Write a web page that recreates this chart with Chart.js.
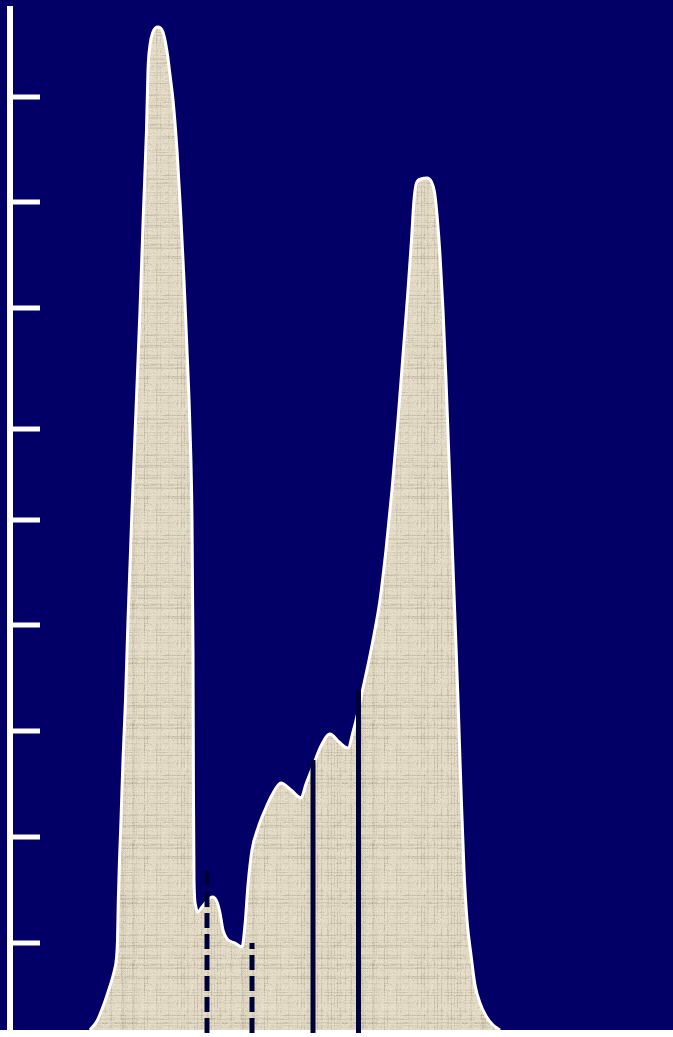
<!DOCTYPE html>
<html>
<head>
<meta charset="utf-8">
<script src="https://cdn.jsdelivr.net/npm/chart.js@4/dist/chart.umd.min.js"></script>
<style>
  html, body { margin: 0; padding: 0; background: #ffffff; }
  #wrap { width: 673px; height: 1037px; }
</style>
</head>
<body>
<div id="wrap"><canvas id="c" width="673" height="1037"></canvas></div>
<script>
// ---- data ----
const profileX = [15.4,16.8,18.2,19.4,20.2,20.7,20.9,21.06,21.3,21.6,22.0,22.5,23.0,23.8,24.6,25.4,26.1,26.7,27.0,27.4,28.0,29.0,29.9,30.4,30.9,31.4,32.0,32.8,33.5,34.2,34.8,35.4,35.8,36.0,36.1,36.2,36.5,36.9,37.8,38.8,39.9,40.8,41.4,42.0,42.8,44.4,45.8,46.4,47.0,47.8,49.0,50.4,51.8,53.6,55.6,57.6,58.6,60.0,61.6,63.4,65.2,67.0,68.0,69.0,70.0,71.0,72.2,73.4,74.6,75.8,77.0,78.0,79.0,79.7,80.2,80.7,81.6,82.8,83.7,84.3,84.8,85.4,86.0,86.6,87.2,87.8,88.4,89.0,89.6,90.2,90.8,91.6,92.4,93.4,94.6,96.0,97.4];
const profileY = [0,0.9,2.6,4.4,5.8,7.2,9.0,13.0,17.0,21.0,27.0,33.0,41.0,52.0,62.0,72.0,82.0,90.0,96.0,98.5,99.8,100.3,99.9,99.0,97.5,95.5,93.0,88.0,82.0,75.0,68.0,60.0,51.0,38.0,23.0,15.0,12.5,11.8,12.3,12.9,13.3,12.8,11.7,10.0,9.1,8.7,8.3,10.5,14.5,18.0,20.2,22.0,23.5,24.7,24.0,23.2,24.6,26.4,28.4,29.6,28.8,28.2,29.8,31.8,34.2,36.5,39.5,43.0,48.0,54.0,61.0,67.5,74.0,79.0,83.0,84.7,85.1,85.2,84.8,83.8,81.5,77.5,72.0,65.0,57.0,49.0,41.0,33.0,24.0,16.0,11.0,7.5,4.5,2.7,1.4,0.5,0];

const markerX    = [38.8, 47.8, 60.0, 69.1];
const markerTop  = [16.2, 8.7, 27.0, 34.0];
const markerDash = [true, true, false, false];

const yTicks = [8.7, 19.3, 29.9, 40.5, 51.0, 60.1, 72.2, 82.8, 93.3];

const X_MIN = 0, X_MAX = 132, Y_MIN = 0, Y_MAX = 102.4;

// ---- texture pattern (linen look) ----
function hash(n) { const s = Math.sin(n * 12.9898 + 78.233) * 43758.5453; return s - Math.floor(s); }
function makePattern(ctx) {
  const w = 120, h = 120;
  const pc = document.createElement('canvas');
  pc.width = w; pc.height = h;
  const p = pc.getContext('2d');
  const img = p.createImageData(w, h);
  const rowS = [], colS = [];
  for (let r = 0; r < h; r++) { const v = hash(r + 311); rowS.push(v > 0.6 ? (v - 0.6) * 2.5 : 0); }
  for (let c = 0; c < w; c++) { const v = hash(c + 977); colS.push(v > 0.6 ? (v - 0.6) * 2.5 : 0); }
  for (let r = 0; r < h; r++) {
    for (let c = 0; c < w; c++) {
      const n = hash(r * 131 + c * 7 + 5);
      const seg = hash(Math.floor(c / 6) * 17 + r * 3) > 0.5 ? 1 : 0.4;
      const segc = hash(Math.floor(r / 6) * 29 + c * 5) > 0.5 ? 1 : 0.4;
      let d = 26 * rowS[r] * seg + 26 * colS[c] * segc + (n > 0.88 ? 14 : 0) - (hash(r + c * 3) > 0.9 ? 8 : 0);
      const i = (r * w + c) * 4;
      img.data[i]     = Math.max(0, Math.min(255, 229 - d));
      img.data[i + 1] = Math.max(0, Math.min(255, 220 - d));
      img.data[i + 2] = Math.max(0, Math.min(255, 200 - d * 1.05));
      img.data[i + 3] = 255;
    }
  }
  p.putImageData(img, 0, 0);
  return ctx.createPattern(pc, 'repeat');
}

const canvas = document.getElementById('c');
const ctx = canvas.getContext('2d');
const pattern = makePattern(ctx);

const datasets = [{
  label: 'profile',
  data: profileX.map((x, i) => ({ x: x, y: profileY[i] })),
  fill: 'origin',
  backgroundColor: pattern,
  borderColor: '#ffffff',
  borderWidth: 3,
  pointRadius: 0,
  cubicInterpolationMode: 'monotone',
  order: 1
}];
markerX.forEach((x, i) => {
  datasets.push({
    label: 'marker' + i,
    data: [{ x: x, y: -0.3 }, { x: x, y: markerTop[i] }],
    borderColor: '#000038',
    borderWidth: 5,
    borderDash: markerDash[i] ? [15, 6] : [],
    borderCapStyle: 'butt',
    pointRadius: 0,
    fill: false,
    clip: false,
    order: 0
  });
});

const bgPlugin = {
  id: 'bg',
  beforeDraw(chart) {
    const c = chart.ctx;
    const a = chart.chartArea;
    c.save();
    c.fillStyle = '#ffffff';
    c.fillRect(0, 0, chart.width, chart.height);
    c.fillStyle = '#020066';
    c.fillRect(0, 0, chart.width, a.bottom);
    c.restore();
  }
};

const axisPlugin = {
  id: 'axisDraw',
  afterDatasetsDraw(chart) {
    const c = chart.ctx;
    const a = chart.chartArea;
    const ys = chart.scales.y;
    c.save();
    c.fillStyle = '#ffffff';
    c.fillRect(a.left - 6, a.top, 6, chart.height - a.top);
    yTicks.forEach(v => {
      const py = Math.round(ys.getPixelForValue(v));
      c.fillRect(a.left, py - 2.5, 27, 5);
    });
    c.restore();
  }
};

new Chart(ctx, {
  type: 'line',
  data: { datasets },
  options: {
    responsive: false,
    animation: false,
    devicePixelRatio: 1,
    layout: { padding: { left: 13, top: 6, right: 0, bottom: 7 } },
    plugins: { legend: { display: false }, tooltip: { enabled: false } },
    scales: {
      x: { type: 'linear', min: X_MIN, max: X_MAX, display: false },
      y: { type: 'linear', min: Y_MIN, max: Y_MAX, display: false }
    }
  },
  plugins: [bgPlugin, axisPlugin]
});
</script>
</body>
</html>
